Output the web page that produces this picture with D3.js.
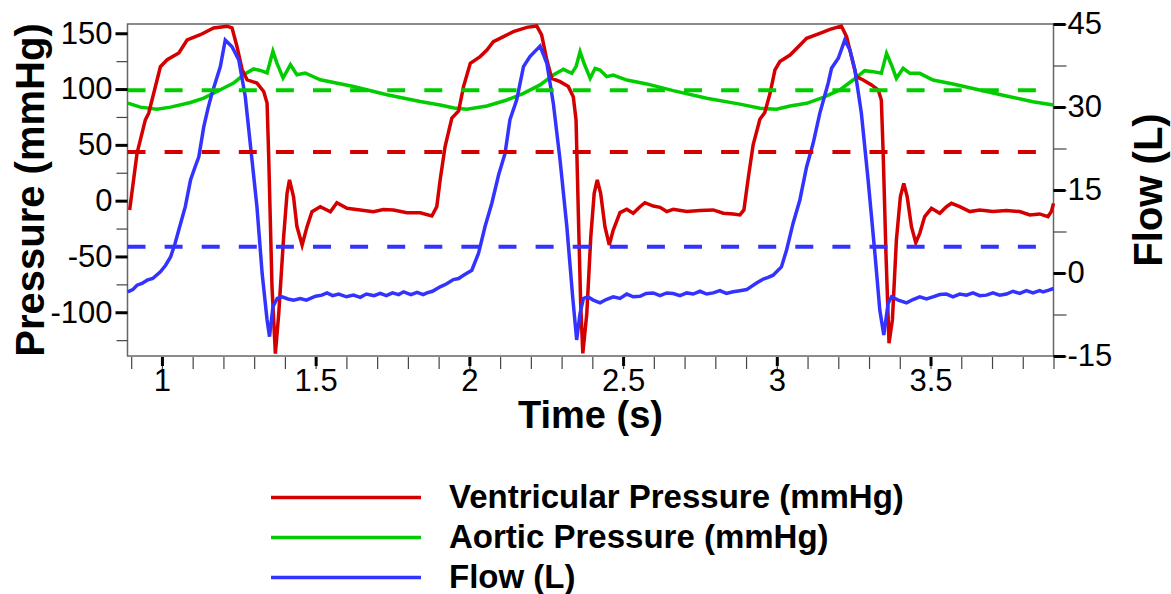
<!DOCTYPE html>
<html>
<head>
<meta charset="utf-8">
<script src="https://cdn.jsdelivr.net/npm/d3@7"></script>
<style>
body { margin: 0; background: #fff; }
</style>
</head>
<body>
<div id="chart"></div>
<script>
// [time (s), ventricular pressure (mmHg)]
var ventricular = [
    [0.895,-8.3],[0.919,42.5],[0.946,72.4],[0.957,78.4],[0.995,120],[1.017,126.3],[1.055,132.3],
    [1.082,144],[1.125,148.7],[1.168,154.8],[1.212,156.2],[1.228,154.8],[1.244,138.2],[1.261,117.3],
    [1.277,108.3],[1.309,105.4],[1.331,97.8],[1.342,87.4],[1.347,42.5],[1.358,-77],[1.369,-137],
    [1.38,-101],[1.396,-32],[1.407,6.6],[1.415,18.6],[1.428,3.6],[1.439,-23],[1.456,-39.8],
    [1.472,-23.3],[1.488,-9.9],[1.515,-5.4],[1.548,-9.9],[1.569,-1.8],[1.602,-6.8],[1.645,-8.3],
    [1.688,-9.9],[1.72,-8],[1.753,-8.3],[1.797,-10.8],[1.84,-10.8],[1.878,-13.7],[1.894,-5.4],
    [1.905,18.6],[1.921,48.5],[1.943,74],[1.965,80.5],[1.981,102.2],[2.003,123.1],[2.035,129.1],
    [2.057,135],[2.078,142.5],[2.111,147],[2.143,151.4],[2.187,155.3],[2.219,156.5],[2.235,148.5],
    [2.252,126],[2.268,109.6],[2.295,106.6],[2.322,102.2],[2.338,93.2],[2.347,72.3],[2.355,-17.3],
    [2.362,-92],[2.369,-136.8],[2.382,-101],[2.395,-32.3],[2.406,6.6],[2.416,18.5],[2.427,6.6],
    [2.441,-23.3],[2.455,-39.7],[2.468,-26.3],[2.49,-10.7],[2.512,-7.7],[2.533,-11.3],[2.555,-5.4],
    [2.571,-1.8],[2.598,-4.8],[2.62,-6],[2.642,-9.8],[2.663,-7.7],[2.707,-9.8],[2.75,-8.9],
    [2.793,-8.3],[2.826,-11.3],[2.858,-11.9],[2.88,-12.8],[2.893,-8.3],[2.907,20],[2.923,50],
    [2.945,73],[2.961,79],[2.978,96.2],[2.994,117.1],[3.01,124.6],[3.043,130.5],[3.07,138],
    [3.097,145.5],[3.14,150],[3.173,153.5],[3.21,156.5],[3.227,147],[3.243,129.1],[3.259,111.1],
    [3.281,108.1],[3.308,103.7],[3.33,99.2],[3.34,90.2],[3.346,42.4],[3.355,-47.2],[3.365,-127.8],
    [3.376,-106.9],[3.389,-35.2],[3.402,3.6],[3.413,15.5],[3.424,3.6],[3.438,-23.3],[3.452,-37.6],
    [3.465,-29.3],[3.481,-14.3],[3.503,-6.9],[3.53,-11.3],[3.552,-5.4],[3.568,-2.4],[3.595,-5.4],
    [3.628,-9.8],[3.66,-8.3],[3.703,-9.8],[3.747,-8.9],[3.79,-9.8],[3.823,-12.8],[3.855,-11.9],
    [3.882,-14.3],[3.893,-9.8],[3.9,-2.4]
];

// [time (s), aortic pressure (mmHg)]
var aortic = [
    [0.889,87.4],[0.93,83.8],[0.984,82],[1.028,83.8],[1.093,88],[1.136,91.9],[1.19,99.4],
    [1.233,105.4],[1.266,112.8],[1.298,118],[1.32,116.7],[1.342,114.4],[1.361,133.8],[1.374,123.3],
    [1.394,109.9],[1.418,121.8],[1.439,112.8],[1.466,114.4],[1.515,108.3],[1.623,102.3],
    [1.732,94.9],[1.84,88.9],[1.905,85.7],[1.95,83],[1.992,81.9],[2.057,84.8],[2.122,90.2],
    [2.176,96.2],[2.23,103.7],[2.273,112.6],[2.306,117.7],[2.333,114.1],[2.347,120.1],[2.36,133.5],
    [2.373,123.1],[2.393,109.6],[2.409,118.6],[2.425,117.1],[2.447,111.1],[2.468,112.6],
    [2.512,108.1],[2.577,104.6],[2.663,98.6],[2.772,91.7],[2.88,86.5],[2.945,82.8],[2.999,81.9],
    [3.043,84.8],[3.097,87.2],[3.151,92.6],[3.205,99.2],[3.248,108.1],[3.286,116.5],[3.313,115.6],
    [3.34,114.1],[3.357,132],[3.373,121.6],[3.389,109.6],[3.411,118.6],[3.433,114.1],[3.465,114.1],
    [3.508,108.1],[3.573,104.6],[3.66,99.2],[3.747,93.8],[3.833,88.7],[3.9,85.7]
];

// [time (s), flow (L)]
var flow = [
    [0.889,-3.4],[0.905,-3.0],[0.919,-2.2],[0.935,-1.9],[0.952,-1.3],[0.97,-1.0],[0.995,0.2],
    [1.012,1.4],[1.028,2.9],[1.042,5.2],[1.055,7.8],[1.076,12],[1.093,16.8],[1.108,19.2],
    [1.12,21],[1.136,26.4],[1.15,29.8],[1.163,32.5],[1.19,37.3],[1.206,42.1],[1.228,40.9],
    [1.25,38.5],[1.271,31.9],[1.293,20.4],[1.309,12],[1.326,-0.1],[1.342,-8.5],[1.35,-11.5],
    [1.361,-6.1],[1.375,-4.6],[1.391,-4.3],[1.41,-4.7],[1.428,-4.9],[1.45,-4.6],[1.47,-4.9],
    [1.483,-4.6],[1.5,-4.2],[1.52,-4.0],[1.537,-3.6],[1.555,-4.1],[1.575,-3.8],[1.6,-4.3],
    [1.623,-4.0],[1.645,-4.4],[1.665,-3.8],[1.69,-4.1],[1.71,-3.7],[1.73,-4.1],[1.75,-3.6],
    [1.77,-3.9],[1.786,-3.4],[1.81,-3.9],[1.83,-3.5],[1.85,-3.9],[1.862,-3.6],[1.88,-3.3],
    [1.905,-2.5],[1.925,-2.0],[1.948,-1.2],[1.965,-1.0],[1.981,-0.4],[2.008,0.5],[2.03,3.6],
    [2.051,8.4],[2.073,12.6],[2.095,17.7],[2.116,21.6],[2.132,27.7],[2.154,31.3],[2.176,37.3],
    [2.197,39.1],[2.23,41],[2.252,37.9],[2.273,30.7],[2.295,20.4],[2.317,8.4],[2.336,-4.3],
    [2.349,-12.1],[2.36,-7.3],[2.371,-4.6],[2.385,-4.3],[2.403,-4.9],[2.425,-5.4],[2.445,-4.8],
    [2.468,-4.3],[2.49,-4.6],[2.512,-3.8],[2.533,-4.3],[2.555,-4.2],[2.575,-3.7],[2.598,-3.6],
    [2.62,-4.1],[2.642,-3.6],[2.663,-3.7],[2.685,-4.1],[2.707,-3.6],[2.728,-3.8],[2.75,-3.3],
    [2.772,-3.8],[2.793,-3.6],[2.815,-3.2],[2.836,-3.7],[2.858,-3.4],[2.88,-3.2],[2.902,-3.0],
    [2.934,-1.8],[2.956,-1.1],[2.972,-0.8],[2.988,-0.4],[3.015,1.1],[3.032,4.2],[3.053,9],
    [3.075,13.2],[3.097,19.2],[3.118,23.4],[3.14,28.9],[3.167,34.3],[3.178,37],[3.2,38.8],
    [3.221,42.1],[3.238,40.3],[3.254,36.7],[3.275,28.9],[3.297,16.8],[3.319,3.6],[3.335,-6.7],
    [3.348,-11.2],[3.362,-5.5],[3.373,-4.3],[3.395,-4.9],[3.422,-5.4],[3.443,-4.8],[3.465,-4.3],
    [3.487,-4.7],[3.508,-4.3],[3.53,-3.9],[3.552,-3.8],[3.573,-4.3],[3.595,-3.8],[3.617,-4.0],
    [3.638,-3.6],[3.66,-4.1],[3.682,-4.0],[3.703,-3.6],[3.725,-4.0],[3.747,-3.8],[3.768,-3.3],
    [3.79,-3.7],[3.812,-3.2],[3.833,-3.6],[3.855,-3.2],[3.866,-3.4],[3.885,-3.1],[3.9,-2.8]
];

// mean lines
var meanVentricular = 43.5;
var meanAortic = 99;
var meanFlow = 4.75;

var timeTicks = [1, 1.5, 2, 2.5, 3, 3.5];
var pressureTicks = [150, 100, 50, 0, -50, -100];
var flowTicks = [45, 30, 15, 0, -15];
var legendLabels = ["Ventricular Pressure (mmHg)", "Aortic Pressure (mmHg)", "Flow (L)"];
var colors = ["#d40000", "#00cc00", "#3333ff"];

var margin = {top: 24, left: 127.5};
var width = 926, height = 332;
var font = "'Liberation Sans', Arial, sans-serif";

var root = d3.select("#chart")
    .append("svg")
        .attr("width", 1171)
        .attr("height", 594)
        .style("background", "#fff");

var svg = root.append("g")
    .attr("transform", "translate(" + margin.left + "," + margin.top + ")");

var x = d3.scaleLinear().domain([0.888, 3.9]).range([0, width]);
var yP = d3.scaleLinear().domain([-139.2, 158.3]).range([height, 0]);
var yF = d3.scaleLinear().domain([-15, 45]).range([height, 0]);

// frame
svg.append("rect")
    .attr("width", width)
    .attr("height", height)
    .style("fill", "none")
    .style("stroke", "#666")
    .style("stroke-width", 1.5);

var lineP = d3.line()
    .x(function(d) { return x(d[0]); })
    .y(function(d) { return yP(d[1]); });
var lineF = d3.line()
    .x(function(d) { return x(d[0]); })
    .y(function(d) { return yF(d[1]); });

svg.append("path").datum(aortic)
    .attr("d", lineP)
    .style("fill", "none").style("stroke", colors[1]).style("stroke-width", 3.5);
svg.append("path").datum(ventricular)
    .attr("d", lineP)
    .style("fill", "none").style("stroke", colors[0]).style("stroke-width", 3.5);
svg.append("path").datum(flow)
    .attr("d", lineF)
    .style("fill", "none").style("stroke", colors[2]).style("stroke-width", 3.5);

// dashed mean lines
var means = [
    {y: yP(meanAortic), c: colors[1]},
    {y: yP(meanVentricular), c: colors[0]},
    {y: yF(meanFlow), c: colors[2]}
];
svg.selectAll(".mean")
    .data(means)
    .enter()
    .append("line")
    .attr("x1", 0)
    .attr("x2", width)
    .attr("y1", function(d) { return d.y; })
    .attr("y2", function(d) { return d.y; })
    .style("stroke", function(d) { return d.c; })
    .style("stroke-width", 4)
    .style("stroke-dasharray", "18,19.1");

var fmt = function(d) { return String(d); };

function styleAxis(g, lineColor, lineWidth, fontSize) {
    g.select(".domain").remove();
    g.selectAll(".tick line")
        .style("stroke", lineColor)
        .style("stroke-width", lineWidth);
    g.selectAll("text")
        .attr("font-family", font)
        .attr("font-size", fontSize)
        .attr("fill", "#000");
}

// left axis
svg.append("g")
    .call(d3.axisLeft(yP).tickValues(d3.range(-125, 151, 25)).tickSize(11).tickFormat(""))
    .call(styleAxis, "#444", 1.2, 0);
svg.append("g")
    .call(d3.axisLeft(yP).tickValues(pressureTicks).tickSize(12).tickPadding(3).tickFormat(fmt))
    .call(styleAxis, "#000", 3, "31px");

// right axis
svg.append("g")
    .attr("transform", "translate(" + width + ",0)")
    .call(d3.axisRight(yF).tickValues(d3.range(-15, 46, 7.5)).tickSize(13).tickFormat(""))
    .call(styleAxis, "#444", 1.2, 0);
svg.append("g")
    .attr("transform", "translate(" + width + ",0)")
    .call(d3.axisRight(yF).tickValues(flowTicks).tickSize(12).tickPadding(2).tickFormat(fmt))
    .call(styleAxis, "#000", 3, "31px");

// bottom axis
svg.append("g")
    .attr("transform", "translate(0," + (height + 1) + ")")
    .call(d3.axisBottom(x).ticks(30).tickSize(12).tickFormat(""))
    .call(styleAxis, "#444", 1.2, 0);
svg.append("g")
    .attr("transform", "translate(0," + (height + 1) + ")")
    .call(d3.axisBottom(x).tickValues(timeTicks).tickSize(9).tickPadding(3).tickFormat(fmt))
    .call(styleAxis, "#000", 3, "31px");

// axis titles
root.append("text")
    .attr("x", margin.left + width / 2)
    .attr("y", 428)
    .attr("text-anchor", "middle")
    .attr("font-family", font)
    .attr("font-weight", "bold")
    .attr("font-size", "38px")
    .text("Time (s)");

root.append("text")
    .attr("transform", "translate(44," + (margin.top + height / 2) + ") rotate(-90)")
    .attr("text-anchor", "middle")
    .attr("font-family", font)
    .attr("font-weight", "bold")
    .attr("font-size", "40px")
    .text("Pressure (mmHg)");

root.append("text")
    .attr("transform", "translate(1162," + (margin.top + height / 2) + ") rotate(-90)")
    .attr("text-anchor", "middle")
    .attr("font-family", font)
    .attr("font-weight", "bold")
    .attr("font-size", "40px")
    .text("Flow (L)");

// legend
var legend = root.append("g");
legend.selectAll("line")
    .data(legendLabels)
    .enter()
    .append("line")
    .attr("x1", 271)
    .attr("x2", 421)
    .attr("y1", function(d, i) { return 497.5 + i * 40; })
    .attr("y2", function(d, i) { return 497.5 + i * 40; })
    .style("stroke", function(d, i) { return colors[i]; })
    .style("stroke-width", 3.5);
legend.selectAll("text")
    .data(legendLabels)
    .enter()
    .append("text")
    .attr("x", 449)
    .attr("y", function(d, i) { return 497.5 + i * 40 + 10; })
    .attr("font-family", font)
    .attr("font-weight", "bold")
    .attr("font-size", "33px")
    .text(function(d) { return d; });
</script>
</body>
</html>
